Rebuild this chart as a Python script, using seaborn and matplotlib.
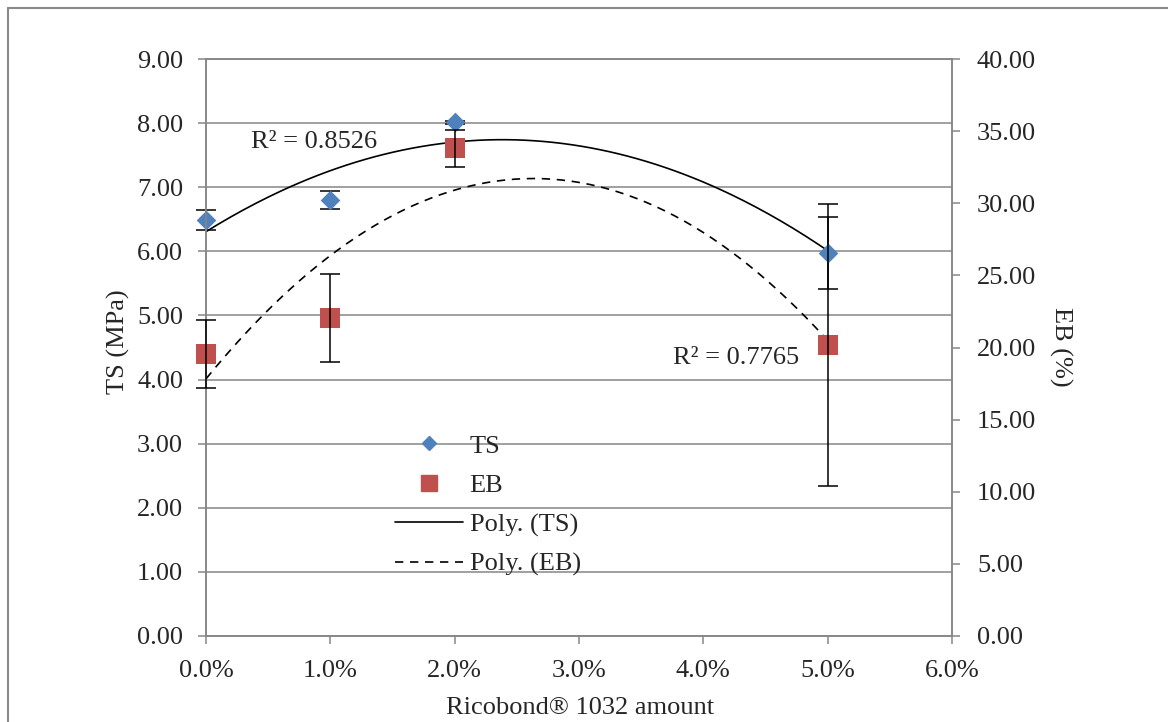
import numpy as np
import pandas as pd
import seaborn as sns
import matplotlib.pyplot as plt
from matplotlib.lines import Line2D
from matplotlib.ticker import PercentFormatter, FormatStrFormatter, MultipleLocator

# data
amount = [0.0, 0.01, 0.02, 0.05]          # Ricobond 1032 amount (fraction)
ts = [6.49, 6.80, 8.01, 5.98]             # TS (MPa)
ts_err = [0.16, 0.14, 0.02, 0.56]
eb = [19.56, 22.04, 33.8, 20.2]           # EB (%)
eb_err = [2.38, 3.07, 1.29, 9.78]
r2_ts = "R² = 0.8526"
r2_eb = "R² = 0.7765"

df = pd.DataFrame({"amount": amount, "TS": ts, "EB": eb})

# 2nd order poly trendlines (like Excel)
xfit = np.linspace(0, max(amount), 200)
fit = pd.DataFrame({
    "amount": xfit,
    "TS": np.polyval(np.polyfit(amount, ts, 2), xfit),
    "EB": np.polyval(np.polyfit(amount, eb, 2), xfit),
})

sns.set_style("white")
plt.rcParams["font.family"] = ["Liberation Serif", "DejaVu Serif"]
FS = 19
GRID = "#868686"
BLUE = "#4F81BD"
RED = "#C0504D"

fig = plt.figure(figsize=(11.68, 7.22), dpi=100)
ax = fig.add_axes([206 / 1168, 1 - 636 / 722, (952 - 206) / 1168, (636 - 59) / 722])
ax2 = ax.twinx()

# outer chart border (left and top only are visible)
fig.add_artist(Line2D([8 / 1168, 8 / 1168], [0, 1 - 8 / 722], color="#8a8a8a", lw=1.5))
fig.add_artist(Line2D([8 / 1168, 1], [1 - 8 / 722, 1 - 8 / 722], color="#8a8a8a", lw=1.5))

# TS on left axis
sns.lineplot(data=fit, x="amount", y="TS", ax=ax, color="black", lw=1.2, legend=False)
sns.scatterplot(data=df, x="amount", y="TS", ax=ax, marker="D", s=100, color=BLUE,
                linewidth=0, zorder=3, legend=False, clip_on=False)
ax.errorbar(amount, ts, yerr=ts_err, fmt="none", ecolor="black", elinewidth=1.1,
            capsize=7, capthick=1.1, zorder=2, clip_on=False)

# EB on right axis
sns.lineplot(data=fit, x="amount", y="EB", ax=ax2, color="black", lw=1.2,
             linestyle=(0, (5, 4)), legend=False)
sns.scatterplot(data=df, x="amount", y="EB", ax=ax2, marker="s", s=205, color=RED,
                linewidth=0, zorder=3, legend=False, clip_on=False)
ax2.errorbar(amount, eb, yerr=eb_err, fmt="none", ecolor="black", elinewidth=1.1,
             capsize=7, capthick=1.1, zorder=4, clip_on=False)

ax.set_xlim(0, 0.06)
ax.set_ylim(0, 9)
ax2.set_ylim(0, 40)
ax.xaxis.set_major_locator(MultipleLocator(0.01))
ax.xaxis.set_major_formatter(PercentFormatter(xmax=1, decimals=1))
ax.yaxis.set_major_locator(MultipleLocator(1))
ax.yaxis.set_major_formatter(FormatStrFormatter("%.2f"))
ax2.yaxis.set_major_locator(MultipleLocator(5))
ax2.yaxis.set_major_formatter(FormatStrFormatter("%.2f"))

ax.grid(axis="y", color=GRID, lw=1.1)
ax.grid(axis="x", visible=False)
ax2.grid(False)
for a in (ax, ax2):
    for s in a.spines.values():
        s.set_color(GRID)
        s.set_linewidth(1.1)
ax.tick_params(axis="both", direction="out", length=6, width=1.1, color=GRID,
               labelsize=FS, bottom=True, left=True)
ax.tick_params(axis="y", pad=10.5)
ax.tick_params(axis="x", pad=11)
ax2.tick_params(axis="y", direction="out", length=6, width=1.1, color=GRID,
                labelsize=FS, right=True, pad=12)

ax.set_xlabel("Ricobond® 1032 amount", fontsize=FS)
ax.set_ylabel("TS (MPa)", fontsize=FS)
ax2.set_ylabel("EB (%)", fontsize=FS, rotation=270)
for lab in (ax.xaxis.label, ax.yaxis.label, ax2.yaxis.label):
    lab.set_va("center")
    lab.set_ha("center")
ax.xaxis.set_label_coords(0.501, -0.125)
ax.yaxis.set_label_coords(-0.118, 0.51)
ax2.yaxis.set_label_coords(1.145, 0.501)

ax.text(0.0087, 7.70, r2_ts, fontsize=FS, ha="center", va="center")
ax.text(0.0426, 4.33, r2_eb, fontsize=FS, ha="center", va="center")

handles = [
    Line2D([], [], marker="D", ms=7, color=BLUE, lw=0),
    Line2D([], [], marker="s", ms=11.3, color=RED, lw=0),
    Line2D([], [], color="black", lw=1.2),
    Line2D([], [], color="black", lw=1.2, linestyle=(0, (5, 4))),
]
ax2.legend(handles, ["TS", "EB", "Poly. (TS)", "Poly. (EB)"], loc="upper left",
           bbox_to_anchor=(0.2534, 0.350), frameon=False, fontsize=FS,
           borderpad=0, borderaxespad=0, handlelength=2.56, handletextpad=0.27,
           labelspacing=0.6)

fig.savefig("out.png", dpi=100)
